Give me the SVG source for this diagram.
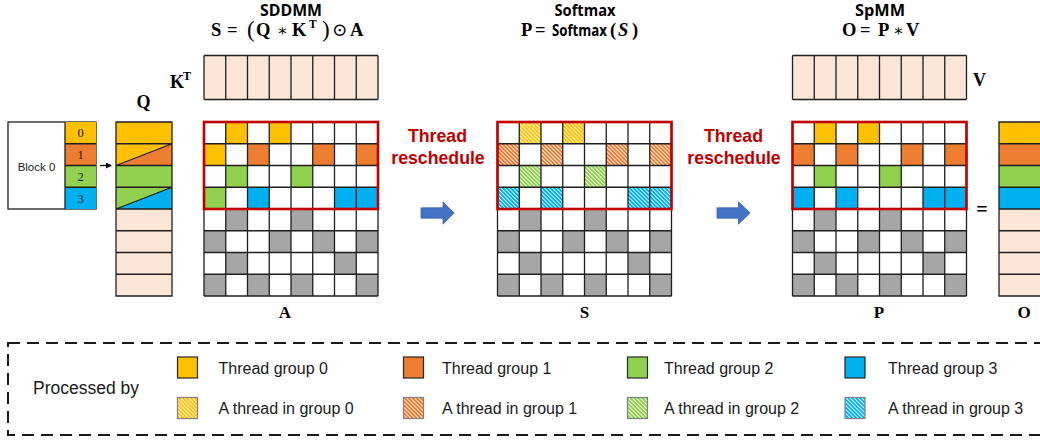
<svg xmlns="http://www.w3.org/2000/svg" xmlns:xlink="http://www.w3.org/1999/xlink" width="1040" height="440" viewBox="0 0 1040 440">
<style>
.bg{fill:#ffffff}
.y{fill:#FFC000}.o{fill:#ED7D31}.g{fill:#92D050}.b{fill:#00B0F0}.k{fill:#A6A6A6}.pe{fill:#FBE5D6}
.hy{fill:url(#hY)}.ho{fill:url(#hO)}.hg{fill:url(#hG)}.hb{fill:url(#hB)}
.grid{fill:none;stroke:#1f1f1f;stroke-width:1.3}
.red{fill:none;stroke:#C00000;stroke-width:2.6}
.math{font-family:"Liberation Serif","DejaVu Serif",serif;font-weight:bold;fill:#000}
.title{font-family:"Open Sans","Liberation Sans",sans-serif;font-weight:bold;fill:#000}
.resch{font-family:"Liberation Sans",Arial,sans-serif;font-weight:bold;font-size:17.7px;fill:#C00000;text-anchor:middle}
.leg{font-family:"Liberation Sans",Arial,sans-serif;font-size:16px;fill:#1a1a1a}
.sw{stroke:#262626;stroke-width:1.2}
.swh{stroke:#7f7f7f;stroke-width:1.2}
.barrow{fill:#4472C4;stroke:#3A64AE;stroke-width:0.8}
</style>
<defs>
<pattern id="hY" width="2.8" height="2.8" patternUnits="userSpaceOnUse" patternTransform="rotate(-45)"><rect width="2.8" height="2.8" fill="#FFC000"/><rect width="0.85" height="2.8" fill="#ffffff"/></pattern>
<pattern id="hO" width="2.8" height="2.8" patternUnits="userSpaceOnUse" patternTransform="rotate(-45)"><rect width="2.8" height="2.8" fill="#ED7D31"/><rect width="0.85" height="2.8" fill="#ffffff"/></pattern>
<pattern id="hG" width="2.8" height="2.8" patternUnits="userSpaceOnUse" patternTransform="rotate(-45)"><rect width="2.8" height="2.8" fill="#92D050"/><rect width="0.85" height="2.8" fill="#ffffff"/></pattern>
<pattern id="hB" width="2.8" height="2.8" patternUnits="userSpaceOnUse" patternTransform="rotate(-45)"><rect width="2.8" height="2.8" fill="#00B0F0"/><rect width="0.85" height="2.8" fill="#ffffff"/></pattern>
<path id="grid8" class="grid" d="M0 0H174M0 21.75H174M0 43.5H174M0 65.25H174M0 87H174M0 108.75H174M0 130.5H174M0 152.25H174M0 174H174M0 0V174M21.75 0V174M43.5 0V174M65.25 0V174M87 0V174M108.75 0V174M130.5 0V174M152.25 0V174M174 0V174"/>
<g id="grays" class="k">
<rect x="21.75" y="87" width="21.75" height="21.75"/><rect x="87" y="87" width="21.75" height="21.75"/>
<rect x="0" y="108.75" width="21.75" height="21.75"/><rect x="65.25" y="108.75" width="21.75" height="21.75"/><rect x="108.75" y="108.75" width="21.75" height="21.75"/><rect x="152.25" y="108.75" width="21.75" height="21.75"/>
<rect x="21.75" y="130.5" width="21.75" height="21.75"/><rect x="130.5" y="130.5" width="21.75" height="21.75"/>
<rect x="0" y="152.25" width="21.75" height="21.75"/><rect x="43.5" y="152.25" width="21.75" height="21.75"/><rect x="87" y="152.25" width="21.75" height="21.75"/><rect x="152.25" y="152.25" width="21.75" height="21.75"/>
</g>
<g id="strip8">
<rect class="pe" x="0" y="0" width="174" height="44"/>
<path class="grid" d="M0 0H174M0 44H174M0 0V44M21.75 0V44M43.5 0V44M65.25 0V44M87 0V44M108.75 0V44M130.5 0V44M152.25 0V44M174 0V44"/>
</g>
<marker id="ah" viewBox="0 0 6 6" refX="5" refY="3" markerWidth="6" markerHeight="6" orient="auto" markerUnits="userSpaceOnUse"><path d="M0 0L6 3L0 6Z" fill="#000"/></marker>
</defs>
<rect class="bg" x="0" y="0" width="1040" height="440"/>

<!-- Titles -->
<g id="title-sddmm">
<text class="title" x="291" y="16" font-size="15.5" text-anchor="middle" textLength="62" lengthAdjust="spacingAndGlyphs">SDDMM</text>
<text class="math" font-size="18.5" y="36"><tspan x="211">S</tspan><tspan x="227">=</tspan><tspan x="247" font-size="23" font-weight="normal" dy="1">(</tspan><tspan x="256" dy="-1">Q</tspan><tspan x="277" font-weight="normal" font-size="16">∗</tspan><tspan x="292">K</tspan><tspan x="309" font-size="11.5" dy="-8">T</tspan><tspan x="322" font-size="23" font-weight="normal" dy="9">)</tspan><tspan x="332" font-weight="normal" dy="-1">⊙</tspan><tspan x="350">A</tspan></text>
</g>
<g id="title-softmax">
<text class="title" x="585" y="15.5" font-size="15.5" text-anchor="middle" textLength="61" lengthAdjust="spacingAndGlyphs">Softmax</text>
<text y="36" font-size="18.5"><tspan class="math" x="521">P</tspan><tspan class="math" x="535">=</tspan><tspan class="title" x="552" font-size="16" textLength="55" lengthAdjust="spacingAndGlyphs">Softmax</tspan><tspan class="math" x="610">(</tspan><tspan class="math" x="618" font-style="italic">S</tspan><tspan class="math" x="632">)</tspan></text>
</g>
<g id="title-spmm">
<text class="title" x="880" y="15.5" font-size="15.5" text-anchor="middle" textLength="50" lengthAdjust="spacingAndGlyphs">SpMM</text>
<text class="math" font-size="18.5" y="36"><tspan x="842">O</tspan><tspan x="860">=</tspan><tspan x="878">P</tspan><tspan x="893" font-weight="normal" font-size="16">∗</tspan><tspan x="906">V</tspan></text>
</g>

<!-- Block 0 -->
<g id="block0">
<rect x="8" y="122" width="88" height="87" fill="#fff" stroke="#1f1f1f" stroke-width="1.3"/>
<rect class="y" x="65" y="122" width="31" height="21.75"/>
<rect class="o" x="65" y="143.75" width="31" height="21.75"/>
<rect class="g" x="65" y="165.5" width="31" height="21.75"/>
<rect class="b" x="65" y="187.25" width="31" height="21.75"/>
<path class="grid" d="M65 122V209M65 143.75H96M65 165.5H96M65 187.25H96"/>
<text x="36.5" y="171" font-family="Liberation Sans,Arial,sans-serif" font-size="11.5" text-anchor="middle" fill="#1a1a1a">Block 0</text>
<g font-family="Liberation Serif,serif" font-size="12.5" text-anchor="middle" fill="#1a1a1a">
<text x="80.5" y="137">0</text><text x="80.5" y="159">1</text><text x="80.5" y="180.5">2</text><text x="80.5" y="202.5">3</text>
</g>
</g>

<!-- Q -->
<g id="Q">
<rect class="pe" x="116" y="122" width="56" height="174"/>
<rect class="y" x="116" y="122" width="56" height="21.75"/>
<polygon class="y" points="116,143.75 172,143.75 116,165.5"/>
<polygon class="o" points="172,143.75 172,165.5 116,165.5"/>
<rect class="g" x="116" y="165.5" width="56" height="21.75"/>
<polygon class="g" points="116,187.25 172,187.25 116,209"/>
<polygon class="b" points="172,187.25 172,209 116,209"/>
<path class="grid" d="M116 122H172V296H116ZM116 143.75H172M116 165.5H172M116 187.25H172M116 209H172M116 230.75H172M116 252.5H172M116 274.25H172M116 165.5L172 143.75M116 209L172 187.25"/>
<text class="math" x="143.5" y="108" font-size="18" text-anchor="middle">Q</text>
</g>

<!-- K^T -->
<g id="KT">
<use xlink:href="#strip8" href="#strip8" x="204" y="55.5"/>
<text class="math" font-size="18" y="88"><tspan x="170">K</tspan><tspan x="183" font-size="12" dy="-8">T</tspan></text>
</g>

<!-- A -->
<g id="A" transform="translate(204,122)">
<rect class="bg" width="174" height="174"/>
<use xlink:href="#grays" href="#grays"/>
<rect class="y" x="21.75" y="0" width="21.75" height="21.75"/><rect class="y" x="65.25" y="0" width="21.75" height="21.75"/>
<rect class="y" x="0" y="21.75" width="21.75" height="21.75"/><rect class="o" x="43.5" y="21.75" width="21.75" height="21.75"/><rect class="o" x="108.75" y="21.75" width="21.75" height="21.75"/><rect class="o" x="152.25" y="21.75" width="21.75" height="21.75"/>
<rect class="g" x="21.75" y="43.5" width="21.75" height="21.75"/><rect class="g" x="87" y="43.5" width="21.75" height="21.75"/>
<rect class="g" x="0" y="65.25" width="21.75" height="21.75"/><rect class="b" x="43.5" y="65.25" width="21.75" height="21.75"/><rect class="b" x="130.5" y="65.25" width="21.75" height="21.75"/><rect class="b" x="152.25" y="65.25" width="21.75" height="21.75"/>
<use xlink:href="#grid8" href="#grid8"/>
<rect class="red" x="0" y="0" width="174" height="87"/>
<text class="math" x="81" y="196" font-size="17" text-anchor="middle">A</text>
</g>

<!-- S -->
<g id="S" transform="translate(497.5,122)">
<rect class="bg" width="174" height="174"/>
<use xlink:href="#grays" href="#grays"/>
<rect class="hy" x="21.75" y="0" width="21.75" height="21.75"/><rect class="hy" x="65.25" y="0" width="21.75" height="21.75"/>
<rect class="ho" x="0" y="21.75" width="21.75" height="21.75"/><rect class="ho" x="43.5" y="21.75" width="21.75" height="21.75"/><rect class="ho" x="108.75" y="21.75" width="21.75" height="21.75"/><rect class="ho" x="152.25" y="21.75" width="21.75" height="21.75"/>
<rect class="hg" x="21.75" y="43.5" width="21.75" height="21.75"/><rect class="hg" x="87" y="43.5" width="21.75" height="21.75"/>
<rect class="hb" x="0" y="65.25" width="21.75" height="21.75"/><rect class="hb" x="43.5" y="65.25" width="21.75" height="21.75"/><rect class="hb" x="130.5" y="65.25" width="21.75" height="21.75"/><rect class="hb" x="152.25" y="65.25" width="21.75" height="21.75"/>
<use xlink:href="#grid8" href="#grid8"/>
<rect class="red" x="0" y="0" width="174" height="87"/>
<text class="math" x="87" y="196" font-size="17" text-anchor="middle">S</text>
</g>

<!-- V -->
<g id="V">
<use xlink:href="#strip8" href="#strip8" x="792.5" y="55.5"/>
<text class="math" x="973" y="86" font-size="18">V</text>
</g>

<!-- P -->
<g id="P" transform="translate(792.5,122)">
<rect class="bg" width="174" height="174"/>
<use xlink:href="#grays" href="#grays"/>
<rect class="y" x="21.75" y="0" width="21.75" height="21.75"/><rect class="y" x="65.25" y="0" width="21.75" height="21.75"/>
<rect class="o" x="0" y="21.75" width="21.75" height="21.75"/><rect class="o" x="43.5" y="21.75" width="21.75" height="21.75"/><rect class="o" x="108.75" y="21.75" width="21.75" height="21.75"/><rect class="o" x="152.25" y="21.75" width="21.75" height="21.75"/>
<rect class="g" x="21.75" y="43.5" width="21.75" height="21.75"/><rect class="g" x="87" y="43.5" width="21.75" height="21.75"/>
<rect class="b" x="0" y="65.25" width="21.75" height="21.75"/><rect class="b" x="43.5" y="65.25" width="21.75" height="21.75"/><rect class="b" x="130.5" y="65.25" width="21.75" height="21.75"/><rect class="b" x="152.25" y="65.25" width="21.75" height="21.75"/>
<use xlink:href="#grid8" href="#grid8"/>
<rect class="red" x="0" y="0" width="174" height="87"/>
<text class="math" x="86.5" y="196" font-size="17" text-anchor="middle">P</text>
</g>

<!-- equals -->
<text id="equals" class="math" x="982" y="216" font-size="20" font-weight="normal" text-anchor="middle">=</text>

<!-- O -->
<g id="O">
<rect class="pe" x="999" y="122" width="56" height="174"/>
<rect class="y" x="999" y="122" width="56" height="21.75"/>
<rect class="o" x="999" y="143.75" width="56" height="21.75"/>
<rect class="g" x="999" y="165.5" width="56" height="21.75"/>
<rect class="b" x="999" y="187.25" width="56" height="21.75"/>
<path class="grid" d="M999 122H1055V296H999ZM999 143.75H1055M999 165.5H1055M999 187.25H1055M999 209H1055M999 230.75H1055M999 252.5H1055M999 274.25H1055"/>
<text class="math" x="1024" y="318" font-size="17" text-anchor="middle">O</text>
</g>

<!-- Thread reschedule labels -->
<g id="resched1"><text class="resch" x="437.5" y="142">Thread</text><text class="resch" x="438" y="164">reschedule</text></g>
<g id="resched2"><text class="resch" x="733.5" y="142">Thread</text><text class="resch" x="734" y="164">reschedule</text></g>

<!-- Connectors -->
<g id="connectors">
<line x1="100" y1="165.5" x2="111" y2="165.5" stroke="#000" stroke-width="1.3" marker-end="url(#ah)"/>
<polygon class="barrow" points="421,207.8 443,207.8 443,201.8 454,213 443,224.2 443,218.2 421,218.2"/>
<polygon class="barrow" points="717,207.8 738.5,207.8 738.5,201.8 750,213 738.5,224.2 738.5,218.2 717,218.2"/>
</g>

<!-- Legend -->
<g id="legend">
<rect x="8" y="343" width="1050" height="92" fill="none" stroke="#1a1a1a" stroke-width="2" stroke-dasharray="12 7"/>
<text x="33" y="394" font-family="Liberation Sans,Arial,sans-serif" font-size="17.5" fill="#1a1a1a">Processed by</text>
<rect class="y sw" x="177.5" y="357" width="20" height="21"/>
<rect class="o sw" x="403.5" y="357" width="20" height="21"/>
<rect class="g sw" x="627.5" y="357" width="20" height="21"/>
<rect class="b sw" x="845" y="357" width="20" height="21"/>
<rect class="hy swh" x="177.5" y="397.5" width="20" height="21"/>
<rect class="ho swh" x="403.5" y="397.5" width="20" height="21"/>
<rect class="hg swh" x="627.5" y="397.5" width="20" height="21"/>
<rect class="hb swh" x="845" y="397.5" width="20" height="21"/>
<text class="leg" x="218.5" y="373.5">Thread group 0</text>
<text class="leg" x="442" y="373.5">Thread group 1</text>
<text class="leg" x="664" y="373.5">Thread group 2</text>
<text class="leg" x="888" y="373.5">Thread group 3</text>
<text class="leg" x="218.5" y="414">A thread in group 0</text>
<text class="leg" x="442" y="414">A thread in group 1</text>
<text class="leg" x="664" y="414">A thread in group 2</text>
<text class="leg" x="888" y="414">A thread in group 3</text>
</g>
</svg>
